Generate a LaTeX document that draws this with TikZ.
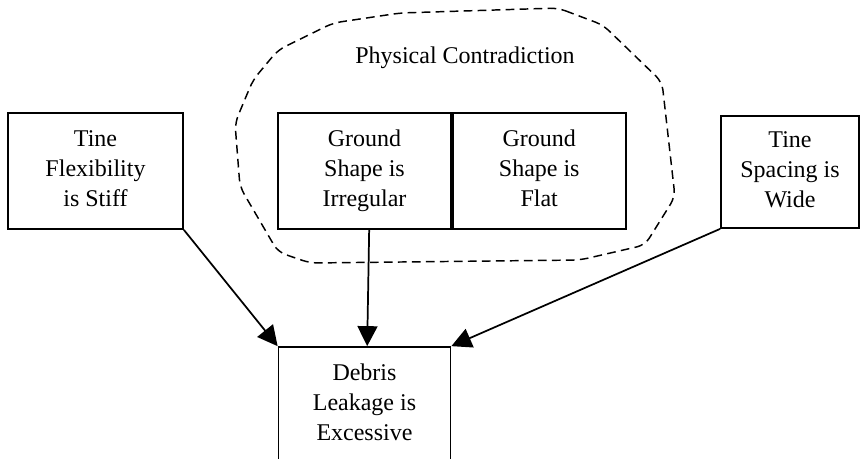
\documentclass[tikz,border=0pt]{standalone}
\usepackage{fontspec}
\setmainfont{Liberation Serif}
\usetikzlibrary{positioning,arrows.meta}
\begin{document}
\begin{tikzpicture}[x=0.75pt,y=-0.75pt,line width=1.3pt]
        \tikzstyle{cause}=[draw=black,inner sep=0pt,align=center,font=\fontsize{18}{22.5}\selectfont,minimum width=130pt,minimum height=87pt]
        \tikzstyle{link}=[draw,-{Triangle[length=15pt,width=15pt]}]
        \tikzstyle{blob}=[draw,dashed,dash pattern=on 6.5pt off 4pt,line width=1.1pt,rounded corners=6pt]
        \useasboundingbox (0,0) rectangle (862,458);
       \begin{scope}
         \node [cause,minimum width=131.25pt] (stiff) at (95.5,171) {Tine\\Flexibility\\is Stiff\vphantom{g}};
         \node [cause,minimum width=129.75pt] (irr) at (364.5,171) {Ground\\Shape is\\Irregular};
         \node [cause,minimum width=129.75pt,right=0pt of irr] (flat) {Ground\\Shape is\\Flat\vphantom{g}};
         \node [cause,minimum width=103.5pt,minimum height=84pt] (wide) at (790,172) {Tine\\Spacing is\\Wide\vphantom{g}};
         \node [cause,minimum width=129pt] (debris) at (364.5,405) {Debris\\Leakage is\\Excessive\vphantom{g}};
         \node [font=\fontsize{18}{20}\selectfont] (pc) at (465,58) {Physical Contradiction};
         \path[blob] (558,8) -- (603,25) -- (662,82) -- (675,197) -- (645,245) -- (580,260)
            -- (310,263) -- (278,252) -- (240,187) -- (235,123) -- (253,80) -- (278,50)
            -- (333,23) -- (400,13) -- cycle;
         \path[link] (stiff.south east) -- (debris.north west);
         \path[link] ([xshift=3.5pt]irr.south) -- ([xshift=2pt]debris.north);
         \path[link] (wide.south west) -- (debris.north east);
        \end{scope}
      \end{tikzpicture}
\end{document}
